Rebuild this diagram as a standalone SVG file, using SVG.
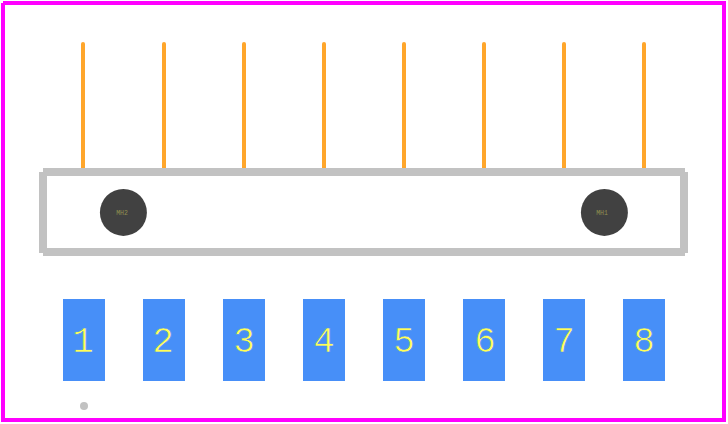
<svg xmlns="http://www.w3.org/2000/svg" width="728" height="424" viewBox="0 0 728 424">
<style>
.pin{fill:#ffa62b;stroke:none}
.sil{fill:#c2c2c2}
.pad{fill:#478ff8}
.num{font-family:"Liberation Mono",monospace;font-size:36px;fill:#ffff55;stroke:#478ff8;stroke-width:0.7px;text-anchor:middle}
.hole{fill:#414141}
.des{font-family:"Liberation Mono",monospace;font-size:6.5px;fill:#8f8f50;text-anchor:middle}
.edge{fill:#ff00ff}
</style>
<rect width="728" height="424" fill="#fff"/>
<g id="outline">
<rect class="edge" x="3" y="1" width="723" height="4"/>
<rect class="edge" x="1" y="3" width="4" height="419"/>
<rect class="edge" x="722" y="3" width="4" height="419"/>
<rect class="edge" x="1" y="418" width="725" height="4"/>
</g>
<g id="pins">
<rect class="pin" x="81" y="42" width="4" height="130" rx="2"/>
<rect class="pin" x="162" y="42" width="4" height="130" rx="2"/>
<rect class="pin" x="242" y="42" width="4" height="130" rx="2"/>
<rect class="pin" x="322" y="42" width="4" height="130" rx="2"/>
<rect class="pin" x="402" y="42" width="4" height="130" rx="2"/>
<rect class="pin" x="482" y="42" width="4" height="130" rx="2"/>
<rect class="pin" x="562" y="42" width="4" height="130" rx="2"/>
<rect class="pin" x="642" y="42" width="4" height="130" rx="2"/>
</g>
<g id="body">
<rect class="sil" x="43" y="168" width="642" height="8"/>
<rect class="sil" x="43" y="248" width="642" height="8"/>
<rect class="sil" x="39" y="172" width="8" height="81"/>
<rect class="sil" x="680" y="172" width="8" height="81"/>
</g>
<g id="MH2"><circle class="hole" cx="123.4" cy="212.4" r="23.5"/><text class="des" x="122" y="215">MH2</text></g>
<g id="MH1"><circle class="hole" cx="604.4" cy="212.4" r="23.5"/><text class="des" x="602" y="215">MH1</text></g>
<g id="pad1"><rect class="pad" x="63" y="299" width="42" height="82"/><text class="num" x="83" y="352">1</text></g>
<g id="pad2"><rect class="pad" x="143" y="299" width="42" height="82"/><text class="num" x="163" y="352">2</text></g>
<g id="pad3"><rect class="pad" x="223" y="299" width="42" height="82"/><text class="num" x="244" y="352">3</text></g>
<g id="pad4"><rect class="pad" x="303" y="299" width="42" height="82"/><text class="num" x="324" y="352">4</text></g>
<g id="pad5"><rect class="pad" x="383" y="299" width="42" height="82"/><text class="num" x="404" y="352">5</text></g>
<g id="pad6"><rect class="pad" x="463" y="299" width="42" height="82"/><text class="num" x="485" y="352">6</text></g>
<g id="pad7"><rect class="pad" x="543" y="299" width="42" height="82"/><text class="num" x="564" y="352">7</text></g>
<g id="pad8"><rect class="pad" x="623" y="299" width="42" height="82"/><text class="num" x="644" y="352">8</text></g>
<g id="marker"><circle class="sil" cx="84" cy="406" r="4"/></g>
</svg>
